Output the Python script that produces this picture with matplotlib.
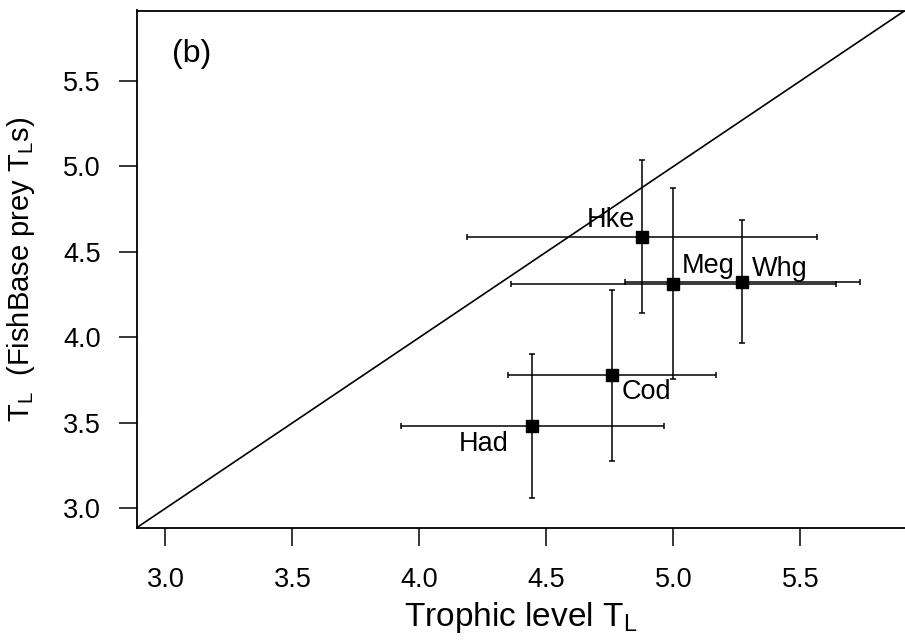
import numpy as np
import matplotlib
matplotlib.use("Agg")
import matplotlib.pyplot as plt

plt.rcParams["font.family"] = ["Liberation Sans", "DejaVu Sans"]
plt.rcParams["mathtext.fontset"] = "custom"
plt.rcParams["mathtext.rm"] = "Liberation Sans"
plt.rcParams["mathtext.it"] = "Liberation Sans:italic"

# values
species = ["Hke", "Meg", "Whg", "Cod", "Had"]
tl = [4.877, 5.0, 5.272, 4.757, 4.445]          # trophic level
tl_err = [0.688, 0.639, 0.463, 0.409, 0.519]
prey_tl = [4.59, 4.315, 4.325, 3.778, 3.481]    # FishBase prey TLs
prey_err = [0.445, 0.56, 0.36, 0.5, 0.42]
ticks = [3.0, 3.5, 4.0, 4.5, 5.0, 5.5]

# label placement (offset in points, alignment)
lab_pos = {
    "Hke": ((-5.0, 7.0), "right"),
    "Meg": ((6.0, 7.4), "left"),
    "Whg": ((6.8, 4.3), "left"),
    "Cod": ((7.2, -17.3), "left"),
    "Had": ((-16.8, -18.0), "right"),
}

fig = plt.figure(figsize=(9.05, 6.4), dpi=100)
ax = fig.add_axes([137 / 905, 1 - 527.5 / 640, 768 / 905, 517 / 640])

ax.axline((3, 3), (5, 5), color="black", lw=1.2)

ax.errorbar(tl, prey_tl, xerr=tl_err, yerr=prey_err, fmt="s", color="black",
            ms=9, capsize=2.2, elinewidth=1.1, capthick=1.1)

for i, s in enumerate(species):
    off, ha = lab_pos[s]
    ax.annotate(s, (tl[i], prey_tl[i]), xytext=off, textcoords="offset points",
                ha=ha, va="baseline", fontsize=19.5)

ax.text(0.045, 0.901, "(b)", transform=ax.transAxes, fontsize=23, va="baseline")

ax.set_xlim(2.888, 5.912)
ax.set_ylim(2.888, 5.912)
ax.set_xticks(ticks)
ax.set_yticks(ticks)
ax.set_xticklabels(["%.1f" % t for t in ticks])
ax.set_yticklabels(["%.1f" % t for t in ticks])
ax.tick_params(axis="both", direction="out", length=12.7, width=1.1, labelsize=19.5)
ax.tick_params(axis="x", pad=16)
ax.tick_params(axis="y", pad=13.2)

ax.spines["right"].set_visible(False)
for sp in ["left", "bottom", "top"]:
    ax.spines[sp].set_linewidth(1.3)

ax.set_xlabel("Trophic level T$_\\mathrm{L}$", fontsize=24)
ax.set_ylabel("T$_\\mathrm{L}$  (FishBase prey T$_\\mathrm{L}$s)", fontsize=21)
ax.xaxis.set_label_coords(0.5, -0.14)
ax.yaxis.set_label_coords(-0.13, 0.5)

fig.savefig("out.png", dpi=100)
